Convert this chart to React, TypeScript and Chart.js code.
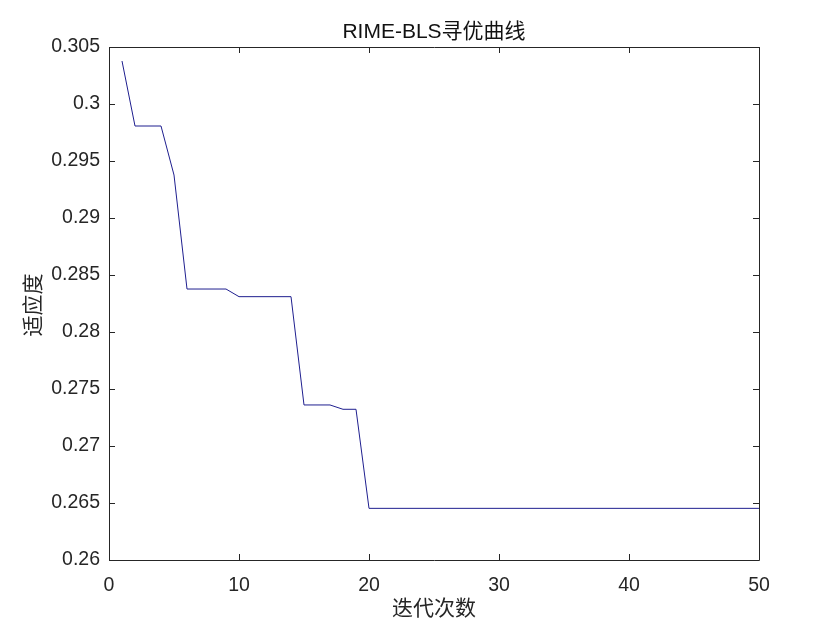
import React, { useEffect, useRef } from "react";
import { Chart, registerables } from "chart.js";

Chart.register(...registerables);

const iterations = [1,2,3,4,5,6,7,8,9,10,11,12,13,14,15,16,17,18,19,20,21,22,23,24,25,26,27,28,29,30,31,32,33,34,35,36,37,38,39,40,41,42,43,44,45,46,47,48,49,50];
const fitness = [
  0.30377, 0.29807, 0.29807, 0.29807, 0.29377, 0.28377, 0.28377, 0.28377, 0.28377, 0.2831,
  0.2831, 0.2831, 0.2831, 0.2831, 0.2736, 0.2736, 0.2736, 0.27322, 0.27322, 0.26453,
  0.26453, 0.26453, 0.26453, 0.26453, 0.26453, 0.26453, 0.26453, 0.26453, 0.26453, 0.26453,
  0.26453, 0.26453, 0.26453, 0.26453, 0.26453, 0.26453, 0.26453, 0.26453, 0.26453, 0.26453,
  0.26453, 0.26453, 0.26453, 0.26453, 0.26453, 0.26453, 0.26453, 0.26453, 0.26453, 0.26453,
];
const xTicks = [0, 10, 20, 30, 40, 50];
const yTicks = [0.26, 0.265, 0.27, 0.275, 0.28, 0.285, 0.29, 0.295, 0.3, 0.305];
const titleText = "RIME-BLS寻优曲线";
const xTitle = "迭代次数";
const yTitle = "适应度";

const LATIN = "'Liberation Sans', Arial, sans-serif";
const CJK = "'Liberation Sans', 'Noto Sans CJK SC', sans-serif";

const boxPlugin = {
  id: "matlabBox",
  afterDatasetsDraw(chart: any) {
    const { ctx, chartArea: a, scales } = chart;
    const x = scales.x, y = scales.y;
    ctx.save();
    ctx.strokeStyle = "#262626";
    ctx.lineWidth = 1;
    ctx.beginPath();
    ctx.rect(Math.round(a.left) + 0.5, Math.round(a.top) + 0.5, Math.round(a.right - a.left), Math.round(a.bottom - a.top));
    const L = 6;
    xTicks.forEach((v) => {
      const px = Math.round(x.getPixelForValue(v)) + 0.5;
      ctx.moveTo(px, a.bottom);
      ctx.lineTo(px, a.bottom - L);
      ctx.moveTo(px, a.top);
      ctx.lineTo(px, a.top + L);
    });
    yTicks.forEach((v) => {
      const py = Math.round(y.getPixelForValue(v)) + 0.5;
      ctx.moveTo(a.left, py);
      ctx.lineTo(a.left + L, py);
      ctx.moveTo(a.right, py);
      ctx.lineTo(a.right - L, py);
    });
    ctx.stroke();
    // title
    ctx.fillStyle = "#111";
    ctx.textAlign = "center";
    ctx.textBaseline = "middle";
    ctx.font = "21px " + CJK;
    ctx.fillText(titleText, (a.left + a.right) / 2, 32);
    // x title
    ctx.fillStyle = "#262626";
    ctx.font = "21px " + CJK;
    ctx.fillText(xTitle, (a.left + a.right) / 2, 609);
    // y title
    ctx.translate(34, 305);
    ctx.rotate(-Math.PI / 2);
    ctx.fillText(yTitle, 0, 0);
    ctx.restore();
  },
};

export default function App() {
  const ref = useRef<HTMLCanvasElement>(null);
  useEffect(() => {
    if (!ref.current) return;
    const chart = new Chart(ref.current, {
      type: "line",
      data: {
        datasets: [
          {
            data: iterations.map((it, i) => ({ x: it, y: fitness[i] })),
            borderColor: "#1f1f8f",
            borderWidth: 1,
            pointRadius: 0,
            tension: 0,
            fill: false,
          },
        ],
      },
      plugins: [boxPlugin],
      options: {
        animation: false,
        responsive: false,
        devicePixelRatio: 1,
        layout: { padding: { top: 47, right: 81, left: 0, bottom: 0 } },
        plugins: { legend: { display: false }, tooltip: { enabled: false }, title: { display: false } },
        scales: {
          x: {
            type: "linear",
            min: 0,
            max: 50,
            afterFit: (s: any) => { s.height = 70; },
            afterBuildTicks: (s: any) => { s.ticks = xTicks.map((v) => ({ value: v })); },
            grid: { display: false, drawTicks: false },
            border: { display: false },
            ticks: {
              padding: 14,
              color: "#262626",
              font: { family: LATIN, size: 19.5 },
              maxRotation: 0,
              callback: (v: any) => String(v),
            },
          },
          y: {
            type: "linear",
            min: 0.26,
            max: 0.305,
            afterFit: (s: any) => { s.width = 109; },
            afterBuildTicks: (s: any) => { s.ticks = yTicks.map((v) => ({ value: v })); },
            grid: { display: false, drawTicks: false },
            border: { display: false },
            ticks: {
              padding: 9,
              color: "#262626",
              font: { family: LATIN, size: 19.5 },
              callback: (v: any) => String(parseFloat(Number(v).toFixed(4))),
            },
          },
        },
      },
    });
    return () => chart.destroy();
  }, []);
  return (
    <div style={{ position: "fixed", left: 0, top: 0, width: 840, height: 630, background: "#fff" }}>
      <canvas ref={ref} width={840} height={630} style={{ width: 840, height: 630 }} />
    </div>
  );
}
